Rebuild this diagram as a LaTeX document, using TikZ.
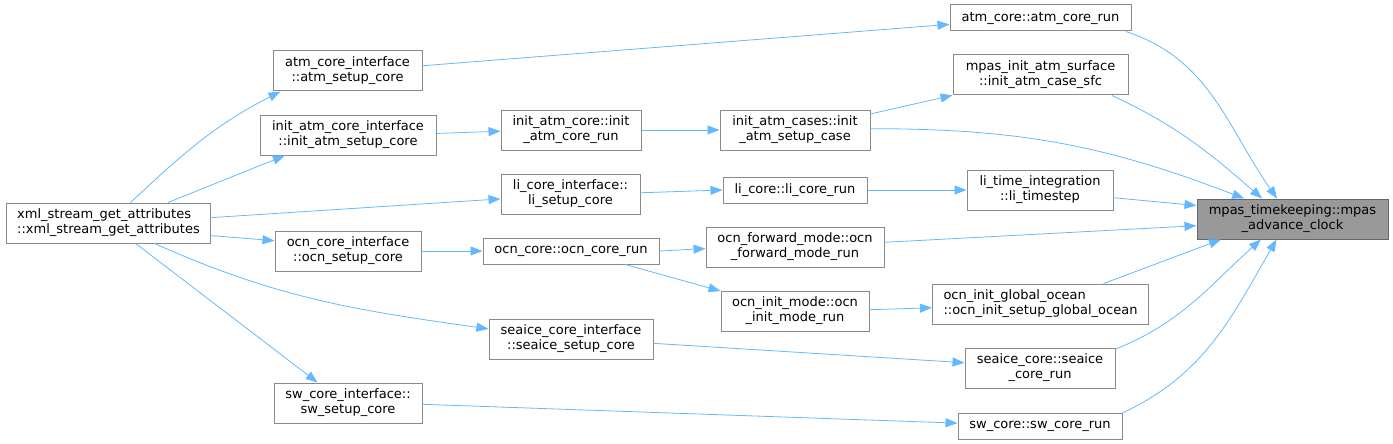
\documentclass[tikz,border=0pt]{standalone}
\usepackage{fontspec}
\setmainfont{DejaVu Sans}
\usetikzlibrary{arrows.meta}
\definecolor{edgeblue}{HTML}{63B8FF}
\definecolor{boxgray}{HTML}{8A8A8A}
\definecolor{hlfill}{HTML}{999999}
\definecolor{hldraw}{HTML}{666666}
\tikzset{
  fn/.style={draw=boxgray, line width=1pt, fill=white, inner sep=0pt, align=center,
    font=\fontsize{13pt}{15pt}\selectfont, minimum height=40pt},
  fnl/.style={fn, align=left, inner xsep=11pt},
  one/.style={minimum height=26pt},
  hl/.style={fill=hlfill, draw=hldraw},
  call/.style={draw=edgeblue, line width=0.8pt, -{Triangle[length=12pt,width=9pt]}}
}
\begin{document}
\begin{tikzpicture}[x=1pt,y=-1pt]
\useasboundingbox (0,0) rectangle (1393,444);
% nodes
\node[fnl] (xml) at (108.5,223) {xml\_stream\_get\_attributes\\::xml\_stream\_get\_attributes};
\node[fn, minimum width=149pt] (acs) at (347.5,71) {atm\_core\_interface\\::atm\_setup\_core};
\node[fn, minimum width=176pt] (iacs) at (348,135) {init\_atm\_core\_interface\\::init\_atm\_setup\_core};
\node[fn, minimum width=146pt] (ocs) at (348,251) {ocn\_core\_interface\\::ocn\_setup\_core};
\node[fn, minimum width=148pt] (sws) at (348,403) {sw\_core\_interface::\\sw\_setup\_core};
\node[fn, minimum width=140pt] (iacr) at (571,130) {init\_atm\_core::init\\\_atm\_core\_run};
\node[fn, minimum width=139pt] (lis) at (570.5,194) {li\_core\_interface::\\li\_setup\_core};
\node[fn, one, minimum width=176pt] (ocr) at (571,251) {ocn\_core::ocn\_core\_run};
\node[fn, minimum width=164pt] (sis) at (571,339) {seaice\_core\_interface\\::seaice\_setup\_core};
\node[fn, minimum width=150pt] (iasc) at (795,130) {init\_atm\_cases::init\\\_atm\_setup\_case};
\node[fn, one, minimum width=144pt] (lcr) at (795,190) {li\_core::li\_core\_run};
\node[fn, minimum width=178pt] (ofm) at (795,247) {ocn\_forward\_mode::ocn\\\_forward\_mode\_run};
\node[fn, minimum width=148pt] (oim) at (795,311) {ocn\_init\_mode::ocn\\\_init\_mode\_run};
\node[fn, one, minimum width=181pt] (acr) at (1040.5,18) {atm\_core::atm\_core\_run};
\node[fn, minimum width=175pt] (sfc) at (1040.5,75) {mpas\_init\_atm\_surface\\::init\_atm\_case\_sfc};
\node[fn, minimum width=146pt] (lts) at (1040,190) {li\_time\_integration\\::li\_timestep};
\node[fnl] (ogo) at (1040.5,304) {ocn\_init\_global\_ocean\\::ocn\_init\_setup\_global\_ocean};
\node[fn, minimum width=150pt] (scr) at (1040,368) {seaice\_core::seaice\\\_core\_run};
\node[fn, one, minimum width=164pt] (swr) at (1040,426) {sw\_core::sw\_core\_run};
\node[fn, hl, minimum width=191pt] (mpas) at (1292.5,219) {mpas\_timekeeping::mpas\\\_advance\_clock};
% edges
\draw[call] (xml.43) to[out=43,in=207] (acs.197);
\draw[call] (xml.19.5) -- (iacs.198.4);
\draw[call] (xml.3.3) -- (lis.184);
\draw[call] (xml.-7.2) -- (ocs.172.2);
\draw[call] (xml.-24.2) to[out=-24,in=172] (sis.173.7);
\draw[call] (xml.-37) -- (sws.146);
\draw[call] (acs.4.6) -- (acr.184.4);
\draw[call] (iacs.1.3) -- (iacr.181.6);
\draw[call] (iacr.east) -- (iasc.west);
\draw[call] (iasc.12.8) -- (sfc.193);
\draw[call] (iasc.1.5) to[out=0,in=159] (mpas.157.2);
\draw[call] (lis.1.6) -- (lcr.180.8);
\draw[call] (lcr.east) -- (lts.west);
\draw[call] (lts.-6.3) -- (mpas.172.8);
\draw[call] (ocs.east) -- (ocr.west);
\draw[call] (ocr.east) -- (ofm.181.3);
\draw[call] (ocr.-14.9) -- (oim.165.6);
\draw[call] (ofm.3.2) -- (mpas.184.2);
\draw[call] (oim.1.5) -- (ogo.182.1);
\draw[call] (ogo.18.6) -- (mpas.196.5);
\draw[call] (sis.-3.5) -- (scr.176.2);
\draw[call] (scr.14.2) to[out=22,in=222] (mpas.213.3);
\draw[call] (sws.-1.5) -- (swr.178.6);
\draw[call] (swr.9) to[out=25,in=240] (mpas.232.2);
\draw[call] (acr.-9.1) to[out=-18,in=125] (mpas.127.8);
\draw[call] (sfc.-16.5) to[out=-25,in=139] (mpas.146.7);
\end{tikzpicture}
\end{document}
